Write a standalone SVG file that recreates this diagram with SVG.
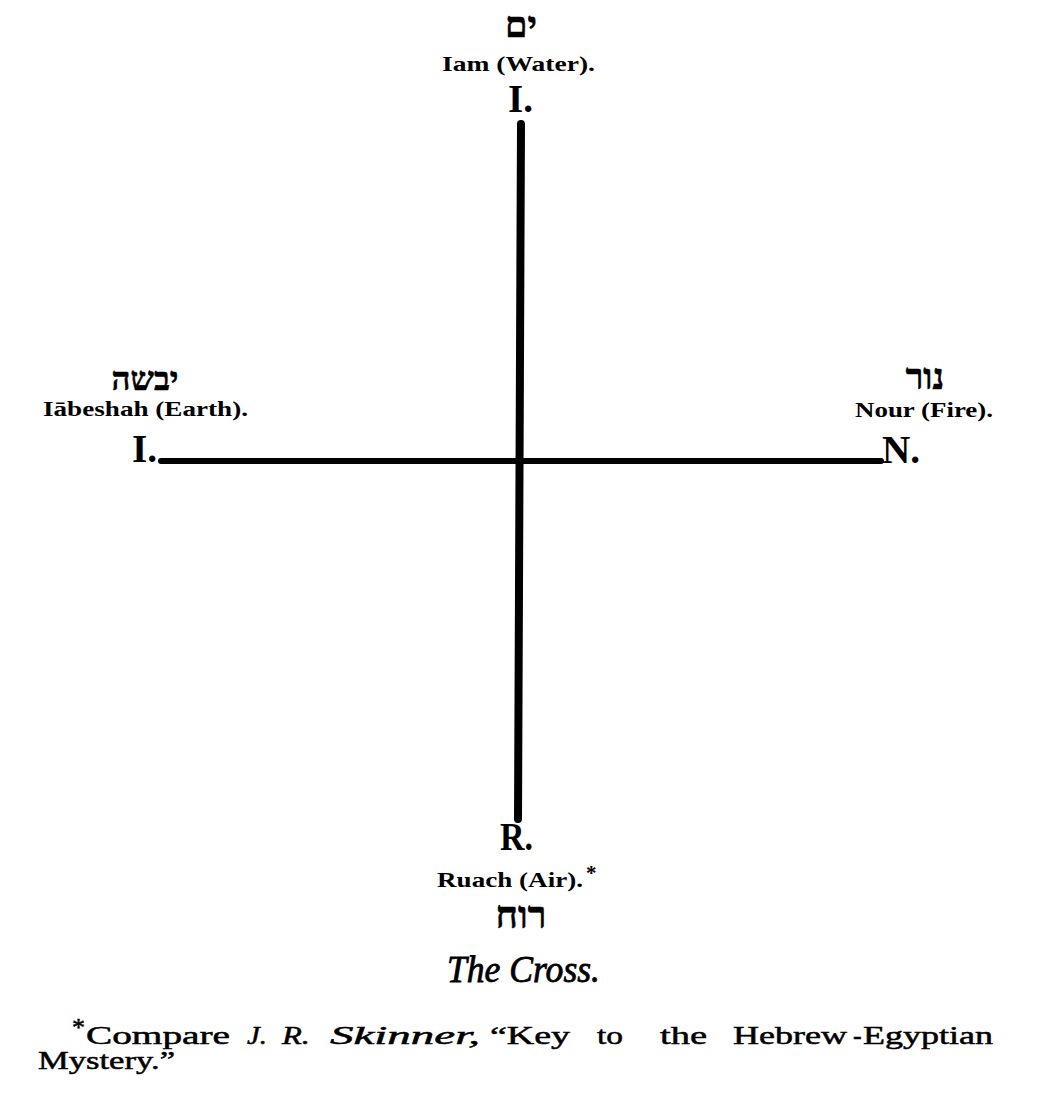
<svg xmlns="http://www.w3.org/2000/svg" width="1041" height="1095" viewBox="0 0 1041 1095">
<style>
  text { font-family: "Liberation Serif", "DejaVu Serif", serif; fill: #000; }
  .heb { font-family: "Liberation Serif", "DejaVu Sans", sans-serif; font-weight: bold; text-anchor: middle; stroke: #000; stroke-width: 0.6px; }
  .lbl { font-size: 21px; font-weight: bold; }
  .big { font-size: 40px; font-weight: bold; }
  .cap { font-size: 38px; font-style: italic; stroke: #000; stroke-width: 0.8px; }
  .fn { font-size: 26px; stroke: #000; stroke-width: 0.5px; }
  .it { font-style: italic; }
  .arm { stroke: #000; fill: none; stroke-linecap: round; }
</style>
<rect width="1041" height="1095" fill="#fff"/>
<g id="connectors">
  <line class="arm" x1="521" y1="124" x2="518" y2="819" stroke-width="8"/>
  <line class="arm" x1="161" y1="461" x2="881" y2="461" stroke-width="6" stroke-linecap="butt"/>
</g>
<g id="node-water">
  <text class="heb" x="521" y="37" font-size="36">ים</text>
  <text class="lbl" x="442" y="71" textLength="153" lengthAdjust="spacingAndGlyphs">Iam (Water).</text>
  <text class="big" x="508" y="112" textLength="25" lengthAdjust="spacingAndGlyphs">I.</text>
</g>
<g id="node-earth">
  <text class="heb" x="145" y="390" font-size="33">יבשה</text>
  <text class="lbl" x="43" y="416" textLength="205" lengthAdjust="spacingAndGlyphs">Iābeshah (Earth).</text>
  <text class="big" x="132" y="462" textLength="25" lengthAdjust="spacingAndGlyphs">I.</text>
</g>
<g id="node-fire">
  <text class="heb" x="925" y="389" font-size="36">נור</text>
  <text class="lbl" x="855" y="417" textLength="138" lengthAdjust="spacingAndGlyphs">Nour (Fire).</text>
  <text class="big" x="882" y="463" textLength="38" lengthAdjust="spacingAndGlyphs">N.</text>
</g>
<g id="node-air">
  <text class="big" x="500" y="850" textLength="33" lengthAdjust="spacingAndGlyphs">R.</text>
  <text class="lbl" x="437" y="887" textLength="146" lengthAdjust="spacingAndGlyphs">Ruach (Air).</text>
  <text class="lbl" x="586" y="880" font-size="14">*</text>
  <text class="heb" x="521" y="928" font-size="38">רוח</text>
</g>
<g id="caption">
  <text class="cap" x="447" y="982" textLength="153" lengthAdjust="spacingAndGlyphs">The Cross.</text>
</g>
<g id="footnote">
  <text class="fn" x="72" y="1036" font-size="14">*</text>
  <text class="fn" x="86" y="1044" textLength="144" lengthAdjust="spacingAndGlyphs">Compare</text>
  <text class="fn it" x="247" y="1044" textLength="20" lengthAdjust="spacingAndGlyphs">J.</text>
  <text class="fn it" x="282" y="1044" textLength="28" lengthAdjust="spacingAndGlyphs">R.</text>
  <text class="fn it" x="330" y="1044" textLength="150" lengthAdjust="spacingAndGlyphs">Skinner,</text>
  <text class="fn" x="490" y="1044" textLength="80" lengthAdjust="spacingAndGlyphs">“Key</text>
  <text class="fn" x="597" y="1044" textLength="26" lengthAdjust="spacingAndGlyphs">to</text>
  <text class="fn" x="660" y="1044" textLength="47" lengthAdjust="spacingAndGlyphs">the</text>
  <text class="fn" x="733" y="1044" textLength="114" lengthAdjust="spacingAndGlyphs">Hebrew</text>
  <text class="fn" x="853" y="1044">-</text>
  <text class="fn" x="863" y="1044" textLength="130" lengthAdjust="spacingAndGlyphs">Egyptian</text>
  <text class="fn" x="38" y="1069" textLength="137" lengthAdjust="spacingAndGlyphs">Mystery.”</text>
</g>
</svg>
